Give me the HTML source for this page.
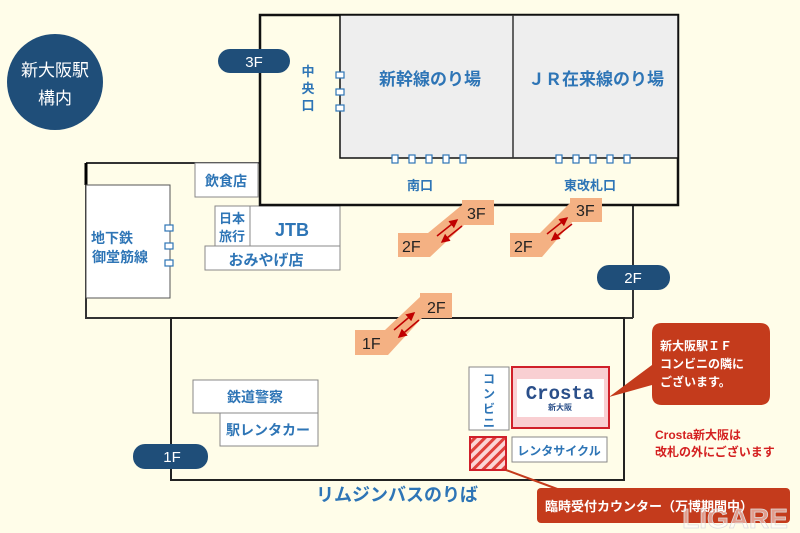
<!DOCTYPE html>
<html><head><meta charset="utf-8"><style>
body{margin:0;background:#fffde9;}
svg{display:block;font-family:"Liberation Sans","Noto Sans CJK JP",sans-serif;}
.b{fill:#2e75b6;font-weight:bold;}
</style></head><body>
<svg width="800" height="533" viewBox="0 0 800 533">
<defs>
<marker id="ah" markerWidth="6" markerHeight="6" refX="5" refY="3" orient="auto"><path d="M0,0L6,3L0,6z" fill="#c00000"/></marker>
<pattern id="hat" width="7" height="7" patternUnits="userSpaceOnUse" patternTransform="rotate(45)"><rect width="7" height="7" fill="#fbd5d5"/><rect width="3" height="7" fill="#e0403a"/></pattern>
</defs>
<rect width="800" height="533" fill="#fffde9"/>
<circle cx="55" cy="82" r="48" fill="#1f4e79"/>
<text x="55" y="76" font-size="17" fill="#fff" text-anchor="middle">新大阪駅</text>
<text x="55" y="104" font-size="17" fill="#fff" text-anchor="middle">構内</text>
<path d="M86,163H260 M633,205V318 M86,163V318H633" fill="none" stroke="#333" stroke-width="2"/>
<line x1="86" y1="163" x2="86" y2="185" stroke="#000" stroke-width="3"/>
<rect x="86" y="185" width="84" height="113" fill="#fff" stroke="#555" stroke-width="1"/>
<text x="112" y="243" font-size="14" class="b" text-anchor="middle">地下鉄</text>
<text x="120" y="262" font-size="14" class="b" text-anchor="middle">御堂筋線</text>
<g fill="#fff" stroke="#2e75b6" stroke-width="1.2"><rect x="165" y="225" width="8" height="6"/><rect x="165" y="243" width="8" height="6"/><rect x="165" y="260" width="8" height="6"/></g>
<rect x="195" y="163" width="63" height="34" fill="#fff" stroke="#888"/>
<text x="226" y="186" font-size="14" class="b" text-anchor="middle">飲食店</text>
<rect x="215" y="206" width="35" height="40" fill="#fff" stroke="#888"/>
<text x="232" y="223" font-size="13" class="b" text-anchor="middle">日本</text>
<text x="232" y="241" font-size="13" class="b" text-anchor="middle">旅行</text>
<rect x="250" y="206" width="90" height="40" fill="#fff" stroke="#888"/>
<text x="292" y="236" font-size="18" class="b" text-anchor="middle">JTB</text>
<rect x="205" y="246" width="135" height="24" fill="#fff" stroke="#888"/>
<text x="266" y="265" font-size="15" class="b" text-anchor="middle">おみやげ店</text>
<rect x="260" y="15" width="418" height="190" fill="#fffde9" stroke="#111" stroke-width="2.5"/>
<rect x="340" y="15" width="338" height="143" fill="#eeeeee" stroke="#111" stroke-width="1.5"/>
<line x1="513" y1="15" x2="513" y2="158" stroke="#333" stroke-width="1.5"/>
<text x="430" y="85" font-size="17" class="b" text-anchor="middle">新幹線のり場</text>
<text x="596" y="85" font-size="17" class="b" text-anchor="middle">ＪＲ在来線のり場</text>
<g fill="#fff" stroke="#2e75b6" stroke-width="1.2">
<rect x="336" y="72" width="8" height="6"/><rect x="336" y="89" width="8" height="6"/><rect x="336" y="105" width="8" height="6"/>
<rect x="392" y="155" width="6" height="8"/><rect x="409" y="155" width="6" height="8"/><rect x="426" y="155" width="6" height="8"/><rect x="443" y="155" width="6" height="8"/><rect x="460" y="155" width="6" height="8"/>
<rect x="556" y="155" width="6" height="8"/><rect x="573" y="155" width="6" height="8"/><rect x="590" y="155" width="6" height="8"/><rect x="607" y="155" width="6" height="8"/><rect x="624" y="155" width="6" height="8"/>
</g>
<text x="308" y="76" font-size="13" class="b" text-anchor="middle">中</text>
<text x="308" y="93" font-size="13" class="b" text-anchor="middle">央</text>
<text x="308" y="110" font-size="13" class="b" text-anchor="middle">口</text>
<text x="420" y="190" font-size="13" class="b" text-anchor="middle">南口</text>
<text x="590" y="190" font-size="13" class="b" text-anchor="middle">東改札口</text>
<rect x="218" y="49" width="72" height="24" rx="12" fill="#1f4e79"/>
<text x="254" y="67" font-size="15" fill="#fff" text-anchor="middle">3F</text>
<rect x="597" y="265" width="73" height="25" rx="12" fill="#1f4e79"/>
<text x="633" y="283" font-size="15" fill="#fff" text-anchor="middle">2F</text>
<rect x="171" y="318" width="453" height="162" fill="none" stroke="#222" stroke-width="2"/>
<rect x="133" y="444" width="75" height="25" rx="12" fill="#1f4e79"/>
<text x="172" y="462" font-size="15" fill="#fff" text-anchor="middle">1F</text>
<rect x="193" y="380" width="125" height="33" fill="#fff" stroke="#888"/>
<text x="255" y="402" font-size="14" class="b" text-anchor="middle">鉄道警察</text>
<rect x="220" y="413" width="98" height="33" fill="#fff" stroke="#888"/>
<text x="268" y="435" font-size="14" class="b" text-anchor="middle">駅レンタカー</text>
<rect x="469" y="367" width="40" height="63" fill="#fff" stroke="#888"/>
<text x="489" y="383" font-size="12" class="b" text-anchor="middle">コ</text>
<text x="489" y="398" font-size="12" class="b" text-anchor="middle">ン</text>
<text x="489" y="413" font-size="12" class="b" text-anchor="middle">ビ</text>
<text x="489" y="427" font-size="12" class="b" text-anchor="middle">ニ</text>
<rect x="512" y="367" width="97" height="61" fill="#f9cfd2" stroke="#d0202a" stroke-width="2"/>
<rect x="517" y="379" width="87" height="38" fill="#fff"/>
<text x="560" y="399" font-size="19" font-weight="bold" fill="#2a4f8a" text-anchor="middle" font-family="Liberation Mono,monospace">Crosta</text>
<text x="560" y="410" font-size="8" font-weight="bold" fill="#2a4f8a" text-anchor="middle">新大阪</text>
<rect x="470" y="437" width="36" height="33" fill="url(#hat)" stroke="#d0202a" stroke-width="2"/>
<rect x="512" y="437" width="95" height="25" fill="#fff" stroke="#888"/>
<text x="559" y="455" font-size="12" class="b" text-anchor="middle">レンタサイクル</text>
<text x="397" y="501" font-size="18" class="b" text-anchor="middle">リムジンバスのりば</text>
<g fill="#f4b183">
<polygon points="398,257 398,233 428,233 462,205 462,200 494,200 494,225 464,225 430,257"/>
<polygon points="510,257 510,233 540,233 570,203 570,198 602,198 602,222 572,222 542,257"/>
<polygon points="355,355 355,330 385,330 420,297 420,293 452,293 452,318 422,318 388,355"/>
</g>
<g font-size="16" fill="#222">
<text x="402" y="252">2F</text><text x="467" y="219">3F</text>
<text x="514" y="252">2F</text><text x="576" y="216">3F</text>
<text x="362" y="349">1F</text><text x="427" y="313">2F</text>
</g>
<g stroke="#c00000" stroke-width="1.5" marker-end="url(#ah)">
<line x1="437" y1="236" x2="457" y2="220"/><line x1="462" y1="226" x2="442" y2="242"/>
<line x1="547" y1="234" x2="567" y2="218"/><line x1="572" y1="224" x2="552" y2="240"/>
<line x1="394" y1="330" x2="414" y2="313"/><line x1="419" y1="320" x2="399" y2="337"/>
</g>
<path d="M662,323H760Q770,323 770,333V395Q770,405 760,405H662Q652,405 652,395V385L609,397L652,365V333Q652,323 662,323Z" fill="#c43b1c"/>
<text x="660" y="350" font-size="12" fill="#fff" font-weight="bold">新大阪駅ＩＦ</text>
<text x="660" y="368" font-size="12" fill="#fff" font-weight="bold">コンビニの隣に</text>
<text x="660" y="386" font-size="12" fill="#fff" font-weight="bold">ございます。</text>
<text x="655" y="439" font-size="12" fill="#d42020" font-weight="bold">Crosta新大阪は</text>
<text x="655" y="456" font-size="12" fill="#d42020" font-weight="bold">改札の外にございます</text>
<line x1="506" y1="470" x2="560" y2="490" stroke="#c43b1c" stroke-width="2"/>
<rect x="537" y="488" width="253" height="35" rx="4" fill="#c43b1c"/>
<text x="545" y="511" font-size="13" fill="#fff" font-weight="bold">臨時受付カウンター（万博期間中）</text>
<text x="735" y="528" font-size="28" fill="#fff" fill-opacity="0.5" stroke="#ddd" stroke-width="0.8" text-anchor="middle" font-weight="bold">LIGARE</text>
</svg>
</body></html>
